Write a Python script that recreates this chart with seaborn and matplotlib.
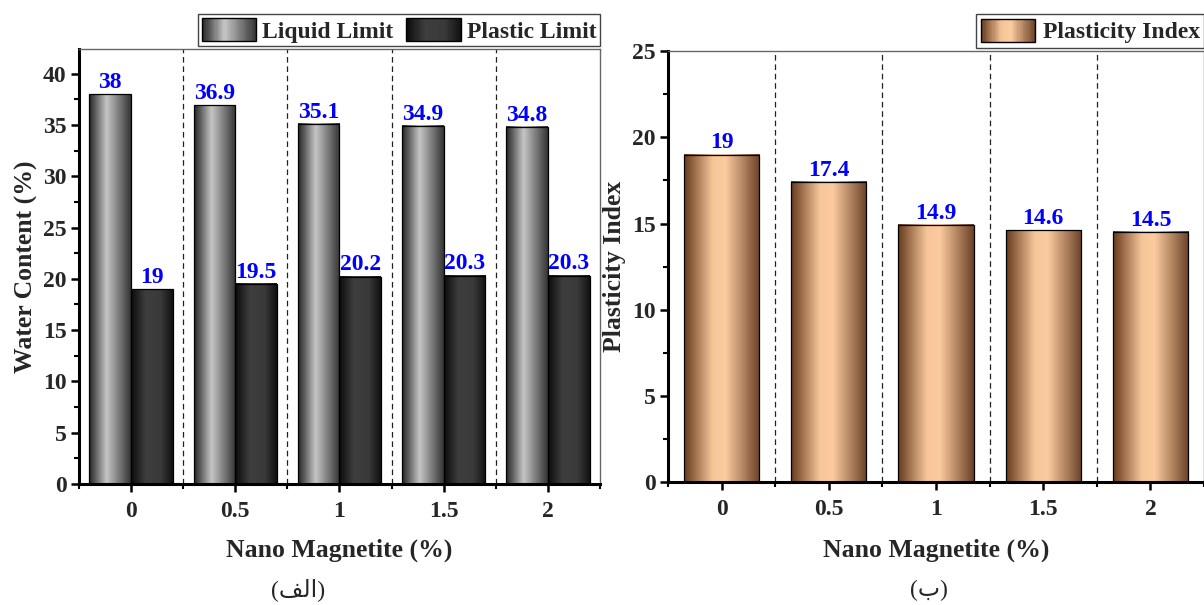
import numpy as np
import pandas as pd
import matplotlib
matplotlib.use("Agg")
import matplotlib.pyplot as plt
import seaborn as sns
from matplotlib.colors import LinearSegmentedColormap
from matplotlib.legend_handler import HandlerBase
from matplotlib.patches import Rectangle, Patch
from matplotlib.ticker import MultipleLocator, FixedLocator

# ---- data -------------------------------------------------------------
nano = ["0", "0.5", "1", "1.5", "2"]
liquid_limit = [38, 36.9, 35.1, 34.9, 34.8]
plastic_limit = [19, 19.5, 20.2, 20.3, 20.3]
plasticity_index = [19, 17.4, 14.9, 14.6, 14.5]

x_label = "Nano Magnetite (%)"
caption_a = "(\uFED2\uFEDF\uFE8D)"   # (الف) in visual order
caption_b = "(\uFE8F)"               # (ب)

# ---- style ------------------------------------------------------------
sns.set_theme(style="white")
plt.rcParams["font.family"] = ["Liberation Serif", "DejaVu Sans"]
plt.rcParams["font.weight"] = "bold"
plt.rcParams["axes.labelweight"] = "bold"

cm_liquid = LinearSegmentedColormap.from_list(
    "liquid", [(0, "#232323"), (0.42, "#c6c6c6"), (1, "#343434")])
cm_plastic = LinearSegmentedColormap.from_list(
    "plastic", [(0, "#0b0b0b"), (0.35, "#3e3e3e"), (0.7, "#3a3a3a"), (1, "#121212")])
cm_pi = LinearSegmentedColormap.from_list(
    "pi", [(0, "#673a1d"), (0.38, "#f6c69a"), (0.55, "#fbcb9f"), (1, "#6c4127")])

FS_TICK = 17
FS_LABEL = 18.5


class GradientHandler(HandlerBase):
    """Legend key drawn as a horizontal colour gradient with a black border."""

    def __init__(self, cmap, n=48):
        super().__init__()
        self.cmap = cmap
        self.n = n

    def create_artists(self, legend, orig_handle, xdescent, ydescent,
                       width, height, fontsize, trans):
        arts = []
        step = width / self.n
        for i in range(self.n):
            arts.append(Rectangle((-xdescent + i * step, -ydescent), step * 1.08, height,
                                  facecolor=self.cmap((i + 0.5) / self.n),
                                  edgecolor="none", transform=trans))
        arts.append(Rectangle((-xdescent, -ydescent), width, height, facecolor="none",
                              edgecolor="black", linewidth=1.0, transform=trans))
        return arts


def shade_bars(ax, container, cmap):
    grad = np.linspace(0, 1, 256).reshape(1, -1)
    for bar in container:
        x, w, h = bar.get_x(), bar.get_width(), bar.get_height()
        ax.imshow(grad, cmap=cmap, extent=[x, x + w, 0, h], aspect="auto",
                  interpolation="bicubic", zorder=2)
        bar.set_facecolor("none")
        bar.set_edgecolor("black")
        bar.set_linewidth(0.9)
        bar.set_zorder(3)


def style_axes(ax, ymax):
    ax.set_xlim(-0.5, 4.5)
    ax.set_ylim(0, ymax)
    ax.set_aspect("auto")
    for b in [0.5, 1.5, 2.5, 3.5]:
        ax.axvline(b, color="#222222", lw=0.9, ls=(0, (4.5, 3)), zorder=1)
    for side in ["left", "bottom"]:
        ax.spines[side].set_color("black")
        ax.spines[side].set_linewidth(2.2)
    for side in ["top", "right"]:
        ax.spines[side].set_color("#666666")
        ax.spines[side].set_linewidth(1.0)
    ax.yaxis.set_minor_locator(MultipleLocator(2.5))
    ax.xaxis.set_minor_locator(FixedLocator([-0.5, 0.5, 1.5, 2.5, 3.5, 4.5]))
    ax.tick_params(which="major", direction="out", length=6, width=1.8,
                   labelsize=FS_TICK, color="black", left=True, bottom=True)
    ax.tick_params(which="minor", direction="out", length=3.5, width=1.5,
                   color="black", left=True, bottom=True)
    ax.tick_params(axis="x", which="major", pad=6)
    ax.tick_params(axis="y", which="major", pad=3)
    for t in ax.get_xticklabels() + ax.get_yticklabels():
        t.set_fontweight("bold")
    ax.set_xlabel(x_label, fontsize=FS_LABEL, fontweight="bold")
    ax.grid(False)


fig = plt.figure(figsize=(12.04, 6.05), dpi=100)
axL = fig.add_axes([0.0656, 0.2, 0.4327, 0.719])
axR = fig.add_axes([0.5548, 0.2025, 0.4452, 0.7132])

# ---- left: liquid and plastic limits --------------------------------------
df_limits = pd.DataFrame({
    "Nano": nano * 2,
    "Value": liquid_limit + plastic_limit,
    "Property": ["Liquid Limit"] * len(nano) + ["Plastic Limit"] * len(nano),
})
sns.barplot(data=df_limits, x="Nano", y="Value", hue="Property", order=nano,
            hue_order=["Liquid Limit", "Plastic Limit"], palette=["#999999", "#222222"],
            width=0.8, gap=0, errorbar=None, legend=False, ax=axL)
for cont, cmap in zip(axL.containers, [cm_liquid, cm_plastic]):
    shade_bars(axL, cont, cmap)
    axL.bar_label(cont, fmt="{:g}", padding=1, color="blue", fontsize=FS_TICK,
                  fontweight="bold", zorder=6)
style_axes(axL, 42.4)
axL.set_ylabel("Water Content (%)", fontsize=FS_LABEL, fontweight="bold")

hL = [Patch(label="Liquid Limit"), Patch(label="Plastic Limit")]
axL.legend(handles=hL, handler_map={hL[0]: GradientHandler(cm_liquid),
                                    hL[1]: GradientHandler(cm_plastic)},
           loc="lower right", bbox_to_anchor=(1.005, 1.0), ncol=2, frameon=True,
           fancybox=False, edgecolor="#444444", framealpha=1,
           prop={"size": FS_TICK, "weight": "bold"},
           handlelength=2.3, handleheight=1.15, handletextpad=0.25,
           columnspacing=0.55, borderpad=0.15, borderaxespad=0.12)

# ---- right: plasticity index ----------------------------------------------
df_pi = pd.DataFrame({"Nano": nano, "Value": plasticity_index})
sns.barplot(data=df_pi, x="Nano", y="Value", order=nano, color="#e0a070",
            width=0.7, errorbar=None, ax=axR)
shade_bars(axR, axR.containers[0], cm_pi)
axR.bar_label(axR.containers[0], fmt="{:g}", padding=1, color="blue",
              fontsize=FS_TICK, fontweight="bold", zorder=6)
style_axes(axR, 25)
axR.yaxis.set_major_locator(MultipleLocator(5))
for t in axR.get_yticklabels():
    t.set_fontweight("bold")
axR.set_ylabel("Plasticity Index", fontsize=FS_LABEL, fontweight="bold")

hR = [Patch(label="Plasticity Index")]
axR.legend(handles=hR, handler_map={hR[0]: GradientHandler(cm_pi)},
           loc="lower right", bbox_to_anchor=(1.006, 1.0), frameon=True,
           fancybox=False, edgecolor="#444444", framealpha=1,
           prop={"size": FS_TICK, "weight": "bold"},
           handlelength=2.3, handleheight=1.15, handletextpad=0.3,
           borderpad=0.2, borderaxespad=0.12)

# axis label placement
axL.yaxis.set_label_coords(-0.078, 0.5)
axR.yaxis.set_label_coords(-0.078, 0.5)
axL.xaxis.set_label_coords(0.5, -0.126)
axR.xaxis.set_label_coords(0.5, -0.131)

# panel captions
fig.text(298 / 1204, 1 - 590 / 605, caption_a, ha="center", va="center",
         fontsize=17, fontweight="normal", family=["Liberation Serif", "DejaVu Sans"])
fig.text(929 / 1204, 1 - 590 / 605, caption_b, ha="center", va="center",
         fontsize=17, fontweight="normal", family=["Liberation Serif", "DejaVu Sans"])

fig.savefig("out.png", dpi=100)
